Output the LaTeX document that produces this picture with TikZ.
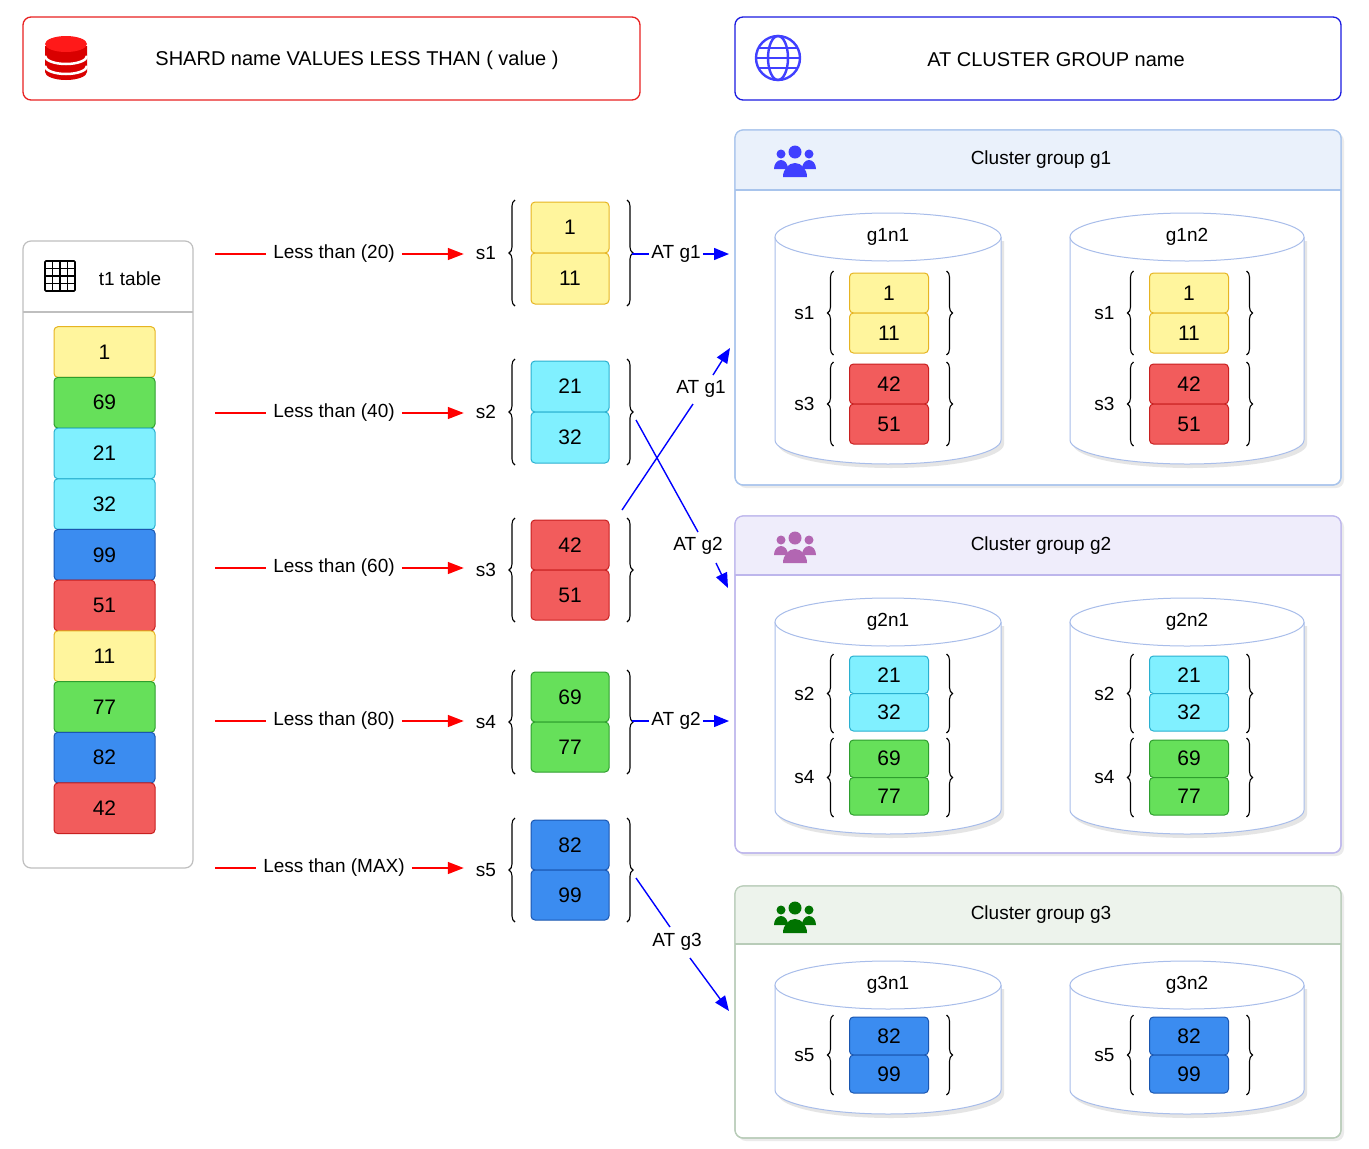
\documentclass[tikz,border=0pt]{standalone}
\usepackage{fontspec}
\setmainfont{Liberation Sans}
\usetikzlibrary{decorations.pathreplacing,arrows.meta}
\definecolor{yelF}{HTML}{FFF59D}\definecolor{yelD}{HTML}{E6B422}
\definecolor{grnF}{HTML}{66E05A}\definecolor{grnD}{HTML}{2E9E2E}
\definecolor{cyaF}{HTML}{80F0FF}\definecolor{cyaD}{HTML}{2AB0D0}
\definecolor{bluF}{HTML}{3B8CF0}\definecolor{bluD}{HTML}{1A56B0}
\definecolor{redF}{HTML}{F25C5C}\definecolor{redD}{HTML}{C82020}
\definecolor{hdrRed}{HTML}{E82020}\definecolor{hdrBlu}{HTML}{1A1AE0}
\definecolor{g1D}{HTML}{A8C4EC}\definecolor{g1H}{HTML}{EAF1FB}
\definecolor{g2D}{HTML}{BDB6EC}\definecolor{g2H}{HTML}{EFEDFB}
\definecolor{g3D}{HTML}{B8CCB8}\definecolor{g3H}{HTML}{EDF3EC}
\definecolor{cylD}{HTML}{A8BDEA}
\tikzset{
 yel/.style={fill=yelF,draw=yelD}, grn/.style={fill=grnF,draw=grnD},
 cya/.style={fill=cyaF,draw=cyaD}, blu/.style={fill=bluF,draw=bluD},
 red/.style={fill=redF,draw=redD},
 cell/.style={rounded corners=4pt,line width=1pt,inner sep=0pt,font=\fontsize{21}{24}\selectfont},
 brc/.style={decorate,decoration={brace,amplitude=6pt},line width=1.1pt},
 lbl/.style={font=\fontsize{19}{22}\selectfont,inner sep=2pt},
 rarr/.style={draw=red,line width=1.5pt,-{Triangle[length=16pt,width=12pt]}},
 rline/.style={draw=red,line width=1.5pt},
 barr/.style={draw=blue,line width=1.4pt,-{Triangle[length=15pt,width=12pt]}},
 bline/.style={draw=blue,line width=1.4pt},
 txt/.style={font=\fontsize{20}{24}\selectfont,inner sep=0pt},
}
\newcommand\mkpair[9]{%
 \node[cell,#5,minimum width=#4,minimum height=#3] (#9a) at (#1,#2+#3/2) {#6};
 \node[cell,#5,minimum width=#4,minimum height=#3] (#9b) at (#1,#2+1.5*#3) {#7};
 \draw[brc] (#1-#4/2-16,#2+2*#3+2) -- (#1-#4/2-16,#2-2);
 \draw[brc] (#1+#4/2+18,#2-2) -- (#1+#4/2+18,#2+2*#3+2);
 \node[lbl] (#9l) at (#1-#4/2-45,#2+#3) {#8};
}
\newcommand\mkcyl[6]{%
 \fill[black!10] (#1-#4+3,#2+4) -- (#1-#4+3,#3+4) arc[start angle=180,end angle=0,x radius=#4,y radius=24] -- (#1+#4+3,#2+4) -- cycle;
 \draw[cylD,fill=white,line width=1pt] (#1-#4,#2) -- (#1-#4,#3) arc[start angle=180,end angle=0,x radius=#4,y radius=24] -- (#1+#4,#2);
 \draw[cylD,fill=white,line width=1pt] (#1,#2) ellipse[x radius=#4,y radius=24];
 \node[lbl] (#5) at (#1,#2) {#6};
}
\begin{document}
\begin{tikzpicture}[x=1pt,y=-1pt]
\useasboundingbox (0,0) rectangle (1369,1149);
\node[draw=hdrRed,line width=1.3pt,rounded corners=8pt,minimum width=617,minimum height=83,inner sep=0] (h1) at (331.5,58.5) {};
\node[txt] (h1t) at (357,60) {SHARD name VALUES LESS THAN ( value )};
\begin{scope}[shift={(66,58)}]
 \fill[red!85!black] (-21,-12) -- (-21,14) arc[start angle=180,end angle=0,x radius=21,y radius=8] -- (21,-12) -- cycle;
 \fill[red!90] (0,-14) ellipse[x radius=21,y radius=8];
 \draw[white,line width=2.5pt] (-21,-2) arc[start angle=180,end angle=0,x radius=21,y radius=8];
 \draw[white,line width=2.5pt] (-21,8) arc[start angle=180,end angle=0,x radius=21,y radius=8];
\end{scope}
\node[draw=hdrBlu,line width=1.3pt,rounded corners=8pt,minimum width=606,minimum height=83,inner sep=0] (h2) at (1038,58.5) {};
\node[txt] (h2t) at (1056,60) {AT CLUSTER GROUP name};
\begin{scope}[shift={(778,58)},line width=2.4pt]
 \draw[blue!75] (0,0) circle[radius=22];
 \draw[blue!75] (0,0) ellipse[x radius=10,y radius=22];
 \draw[blue!75] (-22,0) -- (22,0) (-19,-10) -- (19,-10) (-19,10) -- (19,10);
\end{scope}
\draw[black!25,line width=1.2pt,fill=white,rounded corners=8pt] (23,241) rectangle (193,868);
\draw[black!25,line width=1.2pt] (23,312) -- (193,312);
\begin{scope}[shift={(60,276)}]
 \draw[line width=1.6pt,rounded corners=1pt] (-15,-15) rectangle (15,15);
 \foreach \v in {-7.5,0,7.5}{\draw[line width=1.4pt] (\v,-15) -- (\v,15); \draw[line width=1.4pt] (-15,\v) -- (15,\v);}
\end{scope}
\node[lbl] (tt) at (130,279) {t1 table};
\foreach \s/\v [count=\i from 0] in {yel/1,grn/69,cya/21,cya/32,blu/99,red/51,yel/11,grn/77,blu/82,red/42}{
 \node[cell,\s,minimum width=101,minimum height=50.7] (t\i) at (104.5,352+\i*50.7) {\v};
}
\mkpair{570}{202}{51}{78}{yel}{1}{11}{s1}{m1}
\mkpair{570}{361}{51}{78}{cya}{21}{32}{s2}{m2}
\mkpair{570}{520}{50}{78}{red}{42}{51}{s3}{m3}
\mkpair{570}{672}{50}{78}{grn}{69}{77}{s4}{m4}
\mkpair{570}{820}{50}{78}{blu}{82}{99}{s5}{m5}
\foreach \i/\y/\t in {1/254/20,2/413/40,3/568/60,4/721/80,5/868/MAX}{
 \coordinate (ls\i) at (215,\y);
 \node[lbl,inner sep=7pt] (lt\i) at (334,\y) {Less than (\t)};
 \draw[rline] (ls\i) -- (lt\i.west);
 \draw[rarr,shorten >=10pt] (lt\i.east) -- (lt\i.east -| m\i l.west);
}
\foreach \g/\yt/\yh/\yb/\t in {1/130/190/485/g1,2/516/575/853/g2,3/886/944/1138/g3}{
 \fill[black!8,rounded corners=8pt] (738,\yt+3) rectangle (1344,\yb+3);
 \draw[g\g D,fill=white,line width=1.2pt,rounded corners=8pt] (735,\yt) rectangle (1341,\yb);
 \begin{scope}
  \clip[rounded corners=8pt] (735,\yt) rectangle (1341,\yb);
  \fill[g\g H] (735,\yt) rectangle (1341,\yh);
 \end{scope}
 \draw[g\g D,line width=1.2pt,rounded corners=8pt] (735,\yt) rectangle (1341,\yb);
 \draw[g\g D,line width=1.2pt] (735,\yh) -- (1341,\yh);
 \node[lbl] (cg\g) at (1041,{(\yt+\yh)/2}) {Cluster group \t};
}
\foreach \g/\yc/\c in {1/161/blue!75,2/547/violet!60,3/917/green!45!black}{
 \begin{scope}[shift={(795,\yc)},fill=\c]
  \fill (-14,-7) circle[radius=4.5]; \fill (14,-7) circle[radius=4.5];
  \fill (-21,8) arc[start angle=180,end angle=360,x radius=7,y radius=9] -- cycle;
  \fill (7,8) arc[start angle=180,end angle=360,x radius=7,y radius=9] -- cycle;
  \fill (0,-9) circle[radius=6.5];
  \fill (-12,16) arc[start angle=180,end angle=360,x radius=12,y radius=14] -- cycle;
 \end{scope}
}
\mkcyl{888}{237}{440}{113}{g1n1}{g1n1}
\mkcyl{1187}{237}{440}{117}{g1n2}{g1n2}
\mkcyl{888}{622}{810}{113}{g2n1}{g2n1}
\mkcyl{1187}{622}{810}{117}{g2n2}{g2n2}
\mkcyl{888}{985}{1090}{113}{g3n1}{g3n1}
\mkcyl{1187}{985}{1090}{117}{g3n2}{g3n2}
\foreach \cx/\n in {889/a,1189/b}{
 \mkpair{\cx}{273}{40}{79}{yel}{1}{11}{s1}{c1\n}
 \mkpair{\cx}{364}{40}{79}{red}{42}{51}{s3}{c3\n}
 \mkpair{\cx}{656}{37.5}{79}{cya}{21}{32}{s2}{c2\n}
 \mkpair{\cx}{740}{37.5}{79}{grn}{69}{77}{s4}{c4\n}
 \mkpair{\cx}{1017}{38}{79}{blu}{82}{99}{s5}{c5\n}
}
\coordinate (e1) at (729,254); \coordinate (e4) at (729,721);
\node[lbl] (a1) at (676,254) {AT g1};
\draw[bline] (632,254) -- (a1.west); \draw[barr] (a1.east) -- (e1);
\node[lbl] (a4) at (676,721) {AT g2};
\draw[bline] (632,721) -- (a4.west); \draw[barr] (a4.east) -- (e4);
\coordinate (x3s) at (622,510); \coordinate (x3e) at (730,348);
\node[lbl] (a3) at (701,389) {AT g1};
\draw[bline] (x3s) -- (693,404); \draw[barr] (713,375) -- (x3e);
\coordinate (x2s) at (636,420); \coordinate (x2e) at (728,588);
\node[lbl] (a2) at (698,546) {AT g2};
\draw[bline] (x2s) -- (698,532); \draw[barr] (716,563) -- (x2e);
\coordinate (x5s) at (636,878); \coordinate (x5e) at (729,1011);
\node[lbl] (a5) at (677,942) {AT g3};
\draw[bline] (x5s) -- (670,927); \draw[barr] (690,958) -- (x5e);
\end{tikzpicture}
\end{document}
